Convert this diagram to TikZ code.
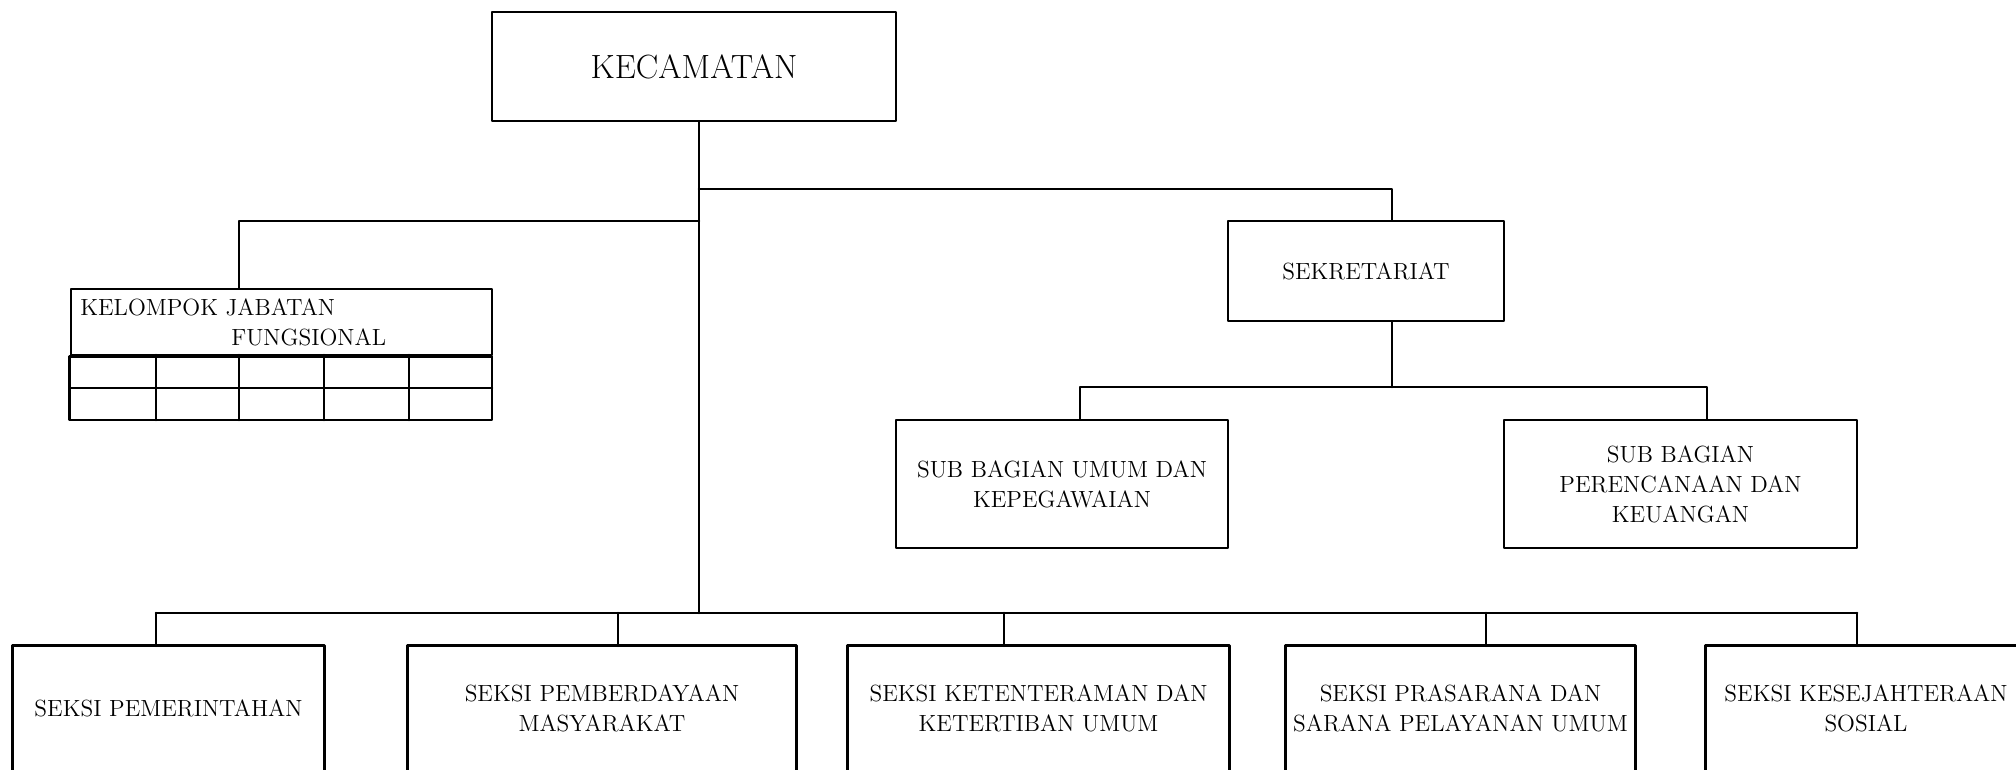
\documentclass[tikz,border=0pt]{standalone}
\begin{document}
\begin{tikzpicture}[x=0.5pt,y=-0.5pt,line join=round,line cap=round,line width=1.3pt,
		font=\fontsize{11.7}{15}\selectfont,
		kotak/.style={draw,rectangle,align=center,inner sep=0pt},
		seksi/.style={rectangle,align=center,inner sep=0pt,minimum height=61pt}]
	\clip (0,0) rectangle (2016,770);
	\node[kotak,minimum width=202pt,minimum height=54.5pt,font=\fontsize{16.8}{18}\selectfont] (kec) at (694,66.5) {KECAMATAN};
	\node[kotak,minimum width=138pt,minimum height=50pt] (sek) at (1366,271) {SEKRETARIAT};
	\node[kotak,minimum width=166pt,minimum height=64pt] (umum) at (1062,484) {SUB BAGIAN UMUM DAN\\KEPEGAWAIAN};
	\node[kotak,minimum width=176.5pt,minimum height=64pt] (uang) at (1680.5,484) {SUB BAGIAN\\PERENCANAAN DAN\\KEUANGAN};
	% kelompok jabatan fungsional
	\node[kotak,minimum width=210.5pt,minimum height=33pt] (kjf) at (281.5,322) {};
	\node[anchor=base west,inner sep=0pt] (kjf1) at (79,315) {KELOMPOK JABATAN};
	\node[anchor=base west,inner sep=0pt] (kjf2) at (230,345) {FUNGSIONAL};
	\draw (kjf.south west) rectangle (492,420);
	\draw (71,388) -- (492,388);
	\foreach \x in {156,239,324,409}
		\draw (\x,355) -- (\x,420);
	% seksi
	\node[seksi,minimum width=154.5pt] (s1) at (168.5,708) {SEKSI PEMERINTAHAN};
	\node[seksi,minimum width=193pt] (s2) at (602,708) {SEKSI PEMBERDAYAAN\\MASYARAKAT};
	\node[seksi,minimum width=189.5pt] (s3) at (1038.5,708) {SEKSI KETENTERAMAN DAN\\KETERTIBAN UMUM};
	\node[seksi,minimum width=173.5pt] (s4) at (1460.5,708) {SEKSI PRASARANA DAN\\SARANA PELAYANAN UMUM};
	\node[seksi,minimum width=159pt] (s5) at (1866,708) {SEKSI KESEJAHTERAAN\\SOSIAL};
	\foreach \n in {s1,s2,s3,s4,s5}
		\draw (\n.south west) |- (\n.north east) -- (\n.south east);
	% garis
	\coordinate (j1) at (699,189);
	\coordinate (j2) at (699,221);
	\coordinate (j3) at (699,613);
	\coordinate (j4) at (1392,387);
	\draw ([xshift=2.5pt]kec.south) -- (j3);
	\draw (j1) -| ([xshift=13pt]sek.north);
	\draw (j2) -| ([xshift=-21.25pt]kjf.north);
	\draw ([xshift=13pt]sek.south) -- (j4);
	\draw ([xshift=9pt]umum.north) |- (j4) -| ([xshift=13.25pt]uang.north);
	\foreach \n/\s in {1/-6.25,2/8,3/-17.25,4/12.75,5/-4.5}{
		\coordinate (d\n) at ([xshift=\s pt]s\n.north);
		\draw (d\n) -- (d\n |- j3);
	}
	\draw (d1 |- j3) -- (d5 |- j3);
\end{tikzpicture}
\end{document}
